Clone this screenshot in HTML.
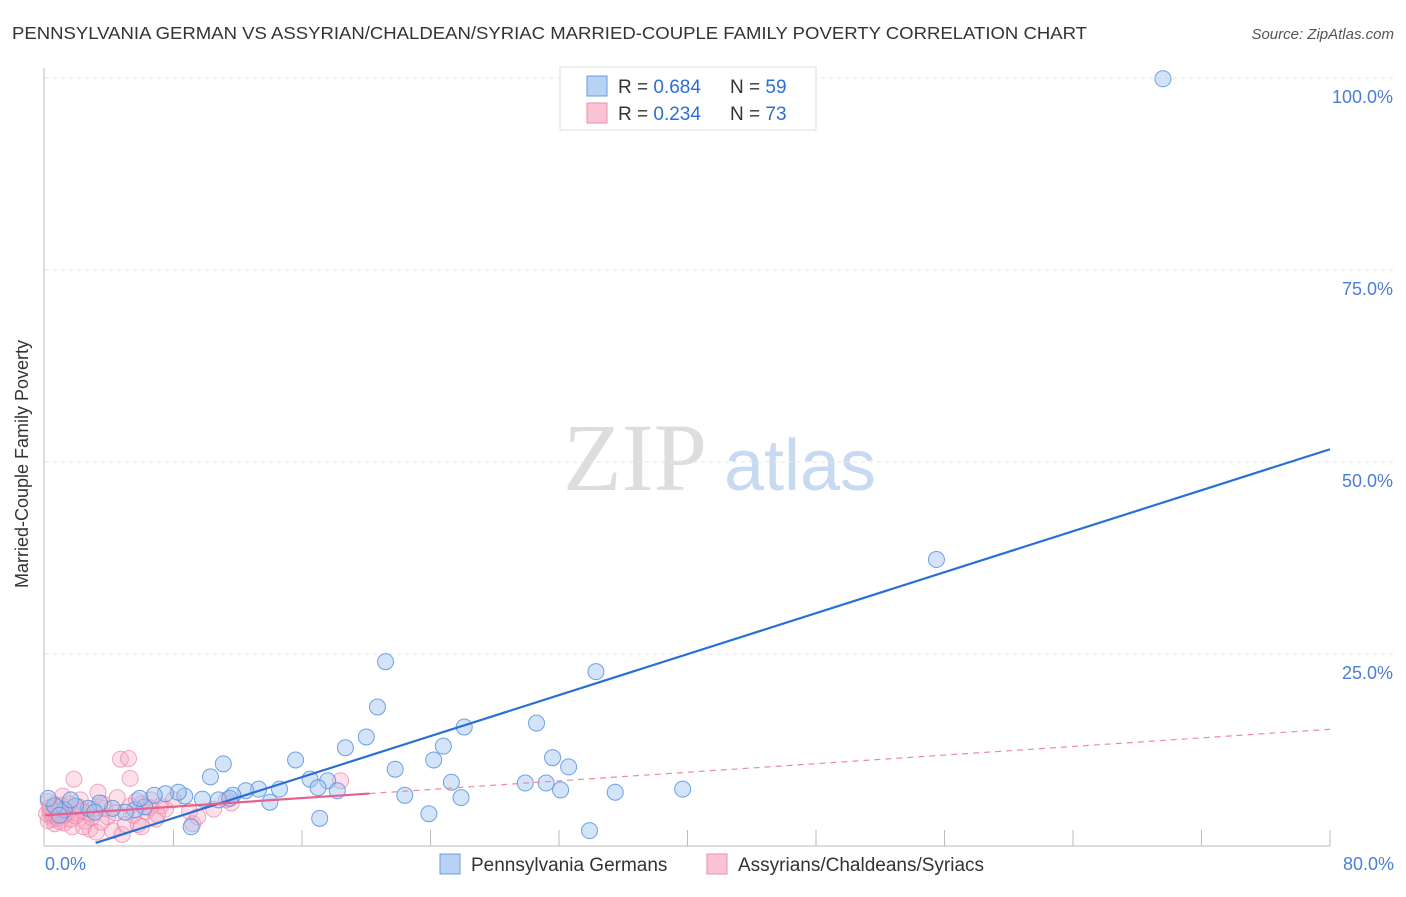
<!DOCTYPE html>
<html><head><meta charset="utf-8"><style>
body{margin:0;background:#fff;font-family:"Liberation Sans",sans-serif}
</style></head><body>
<svg id="c" width="1406" height="892" xmlns="http://www.w3.org/2000/svg" font-family="Liberation Sans, sans-serif">
<text x="12" y="39" font-size="17.5" fill="#333" textLength="1075" lengthAdjust="spacingAndGlyphs">PENNSYLVANIA GERMAN VS ASSYRIAN/CHALDEAN/SYRIAC MARRIED-COUPLE FAMILY POVERTY CORRELATION CHART</text>
<text x="1394" y="39" font-size="15" fill="#555" font-style="italic" text-anchor="end">Source: ZipAtlas.com</text>
<g><text x="635" y="490" font-size="96" font-family="Liberation Serif, serif" fill="#ddd" text-anchor="middle">ZIP</text><text x="800" y="490" font-size="72" fill="#c8daf2" text-anchor="middle">atlas</text></g>
<g id="grid"></g><g id="marks"></g>
<line x1="44" y1="68" x2="44" y2="846" stroke="#bbb"/>
<line x1="44" y1="846" x2="1330" y2="846" stroke="#bbb"/>
<text x="20" y="456" font-size="18" fill="#333" text-anchor="middle" transform="rotate(-90 28 456)">Married-Couple Family Poverty</text>
<text x="45" y="870" font-size="18" fill="#4a7fd4">0.0%</text>
<text x="1394" y="870" font-size="18" fill="#4a7fd4" text-anchor="end">80.0%</text>
<g>
<rect x="560" y="67" width="256" height="63" fill="#fff" stroke="#ddd"/>
<rect x="587" y="76" width="20" height="20" fill="#b8d2f5" stroke="#6a9be0"/>
<text x="618" y="93" font-size="19" fill="#333">R = <tspan fill="#2b6fd6">0.684</tspan></text>
<text x="730" y="93" font-size="19" fill="#333">N = <tspan fill="#2b6fd6">59</tspan></text>
<rect x="587" y="103" width="20" height="20" fill="#f9c3d4" stroke="#ee8eb0"/>
<text x="618" y="120" font-size="19" fill="#333">R = <tspan fill="#2b6fd6">0.234</tspan></text>
<text x="730" y="120" font-size="19" fill="#333">N = <tspan fill="#2b6fd6">73</tspan></text>
</g>
<g>
<rect x="440" y="854" width="20" height="20" fill="#b8d2f5" stroke="#6a9be0"/>
<text x="471" y="871" font-size="19" fill="#333">Pennsylvania Germans</text>
<rect x="707" y="854" width="20" height="20" fill="#f9c3d4" stroke="#ee8eb0"/>
<text x="738" y="871" font-size="19" fill="#333">Assyrians/Chaldeans/Syriacs</text>
</g>
</svg>
<script>
const yTicks=[25,50,75,100];
const yTickLabels=["25.0%","50.0%","75.0%","100.0%"];
const xTicks=[8,16,24,32,40,48,56,64,72,80];
const blueX=[69.6,55.5,34.3,21.2,20.7,20.0,18.7,26.1,30.6,24.8,24.2,31.6,32.6,21.8,15.6,11.1,10.3,39.7,35.5,32.1,31.2,29.9,25.3,25.9,22.4,23.9,33.9,17.1,16.5,17.6,18.2,17.0,14.6,14.0,13.3,12.5,11.7,10.8,9.8,8.7,8.3,7.5,6.8,9.1,6.2,5.6,5.0,4.2,3.4,2.7,1.9,1.2,0.6,0.2,0.9,1.6,3.1,5.9,11.5];
const blueY=[99.9,37.3,22.7,24.0,18.1,14.2,12.8,15.5,16.0,13.0,11.2,11.5,10.3,10.0,11.2,10.7,9.0,7.4,7.0,7.3,8.2,8.2,8.3,6.3,6.6,4.2,2.0,3.6,8.7,8.5,7.2,7.6,7.4,5.7,7.4,7.2,6.6,6.0,6.1,6.5,7.0,6.8,6.6,2.5,5.1,4.7,4.4,4.9,5.6,4.9,5.2,4.7,5.2,6.2,4.0,6.0,4.4,6.2,6.2];
const pinkX=[0.3,0.5,0.8,1.0,1.2,1.5,1.7,2.0,2.2,2.5,1.8,2.8,3.0,3.3,3.6,3.9,4.2,4.5,4.8,5.0,5.3,5.5,4.7,5.2,5.3,5.8,6.0,6.3,6.6,6.9,7.2,7.5,8.0,9.0,9.2,9.5,10.5,11.3,11.6,18.4,0.2,0.6,1.1,1.4,0.4,0.9,2.4,3.2,3.5,6.0,0.1,0.3,0.7,1.3,1.6,2.1,2.6,0.2,0.5,0.8,1.0,1.9,2.3,2.9,3.7,4.4,5.7,6.5,7.0,0.4,1.2,0.6,0.9];
const pinkY=[4.5,3.5,5.0,4.0,3.0,5.5,2.5,4.2,6.0,3.2,8.7,2.2,4.8,7.0,5.5,3.8,2.0,6.3,1.5,2.8,5.2,4.0,11.3,11.4,8.8,2.8,5.5,4.5,6.0,3.5,5.2,4.8,6.0,4.5,2.9,3.8,4.8,6.0,5.6,8.5,5.8,2.9,6.5,4.3,3.9,4.7,2.5,1.8,3.1,2.5,4.2,5.0,3.8,4.6,3.5,5.1,4.4,3.3,4.1,3.6,5.3,3.9,4.6,3.7,4.9,4.3,5.9,5.0,4.1,4.8,4.0,5.4,3.2];
const blueFit=[-1.7,0.667];
const pinkFit=[4.0,0.14];
const X=v=>45+v*16.0625, Y=v=>846-v*7.68;
const NS="http://www.w3.org/2000/svg";
const grid=document.getElementById('grid'), marks=document.getElementById('marks');
function mk(tag,at,parent){const e=document.createElementNS(NS,tag);for(const k in at)e.setAttribute(k,at[k]);parent.appendChild(e);return e;}
yTicks.forEach((t,i)=>{
 const l=mk('line',{x1:45,x2:1394,y1:Y(t),y2:Y(t),stroke:'#e6e6e6','stroke-dasharray':'4,4'},grid);
 
 
 const tx=mk('text',{x:1393,y:Y(t)+25,'font-size':18,fill:'#4a7fd4','text-anchor':'end'},grid);
 tx.textContent=yTickLabels[i];
 
 
});
xTicks.forEach(t=>{
 const l=mk('line',{x1:X(t),x2:X(t),y1:830,y2:846,stroke:'#bbb'},grid);
 
 
});
pinkX.forEach((x,i)=>{
 const c=mk('circle',{cx:X(x),cy:Y(pinkY[i]),r:8,fill:'rgba(246,168,194,0.35)',stroke:'rgba(238,130,168,0.7)','stroke-width':1},marks);
 
 
});
blueX.forEach((x,i)=>{
 const c=mk('circle',{cx:X(x),cy:Y(blueY[i]),r:8,fill:'rgba(160,196,240,0.45)',stroke:'rgba(80,140,220,0.8)','stroke-width':1},marks);
 
 
});
const bx0=(0-blueFit[0])/blueFit[1];
let l=mk('line',{x1:X(bx0+0.6),y1:Y(blueFit[0]+blueFit[1]*(bx0+0.6)),x2:X(80),y2:Y(blueFit[0]+blueFit[1]*80),stroke:'#2a6fd8','stroke-width':2.2},marks);


l=mk('line',{x1:X(0),y1:Y(pinkFit[0]),x2:X(20.2),y2:Y(pinkFit[0]+pinkFit[1]*20.2),stroke:'#e8608c','stroke-width':2.2},marks);


l=mk('line',{x1:X(20.2),y1:Y(pinkFit[0]+pinkFit[1]*20.2),x2:X(80),y2:Y(pinkFit[0]+pinkFit[1]*80),stroke:'#eb8aa8','stroke-width':1.2,'stroke-dasharray':'6,5'},marks);


</script>
</body></html>
